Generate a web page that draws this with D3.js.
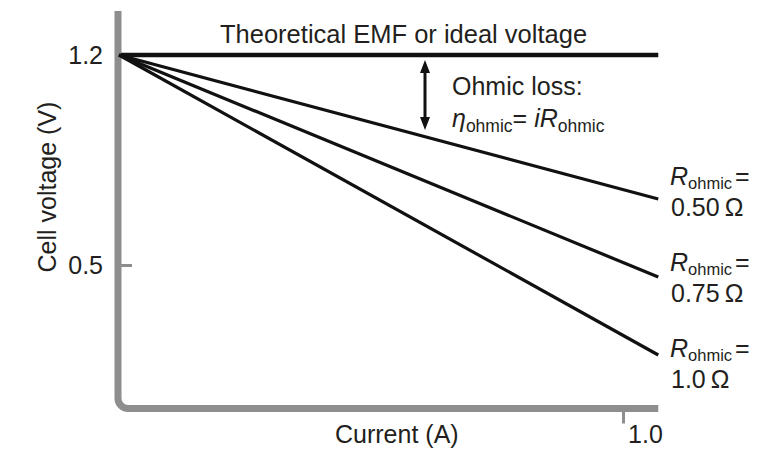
<!DOCTYPE html>
<html>
<head>
<meta charset="utf-8">
<script src="https://cdn.jsdelivr.net/npm/d3@7"></script>
<style>
  html, body { margin: 0; padding: 0; background: #fff; }
  svg text { font-family: "Liberation Sans", Arial, Helvetica, sans-serif; fill: #231f20; }
</style>
</head>
<body>
<div class="box"></div>
<script>
// values
const emf = 1.2;                          // ideal voltage (V)
const resistances = ["0.50", "0.75", "1.0"]; // R ohmic (ohm)
const endCurrent = 1.07;                  // where the lines stop (A)
const endVoltages = [0.72, 0.46, 0.20];   // cell voltage at endCurrent
const yTicks = [0.5, 1.2];
const xTicks = [1.0];

// Vars for the svg "box"
const w = 777;
const h = 454;
const axisColor = "#8e8e8e";
const fontSize = 25;

const svg = d3.select(".box")
              .append("svg")
              .attr("width", w)
              .attr("height", h);

// scales
const x = d3.scaleLinear().domain([0, 1]).range([119, 623]);
const y = d3.scaleLinear().domain([0.5, 1.2]).range([265, 55]);

const x0 = 118;
const yTop = 11;
const yBot = 408.5;
const xRight = x(endCurrent);

// FRAME (L shaped, rounded corner)
const r = 10;
const frame = d3.path();
frame.moveTo(x0, yTop);
frame.lineTo(x0, yBot - r);
frame.arcTo(x0, yBot, x0 + r, yBot, r);
frame.lineTo(xRight, yBot);

svg.append("path")
    .attr("d", frame.toString())
    .attr("fill", "none")
    .attr("stroke", axisColor)
    .attr("stroke-width", 7);

// Y AXIS ticks
const yAxis = d3.axisLeft(y).tickValues(yTicks).tickSize(-14).tickPadding(15).tickFormat(d3.format(".1f"));
const gy = svg.append("g")
    .attr("transform", "translate(" + x0 + ",0)")
    .call(yAxis);
gy.select(".domain").remove();
gy.selectAll(".tick line").attr("stroke", axisColor).attr("stroke-width", 3);
gy.selectAll(".tick text")
    .style("font-size", fontSize + "px")
    .attr("fill", "#231f20");

// X AXIS ticks
const xAxis = d3.axisBottom(x).tickValues(xTicks).tickSize(15).tickPadding(2).tickFormat(d3.format(".1f"));
const gx = svg.append("g")
    .attr("transform", "translate(0," + yBot + ")")
    .call(xAxis);
gx.select(".domain").remove();
gx.selectAll(".tick line").attr("stroke", axisColor).attr("stroke-width", 3);
gx.selectAll(".tick text")
    .style("font-size", fontSize + "px")
    .attr("fill", "#231f20")
    .attr("dx", 22);

// AXIS NAMES
svg.append("text")
    .attr("transform", "translate(56,187) rotate(-90)")
    .attr("text-anchor", "middle")
    .style("font-size", fontSize + "px")
    .text("Cell voltage (V)");

svg.append("text")
    .attr("x", 335)
    .attr("y", 443)
    .style("font-size", fontSize + "px")
    .text("Current (A)");

// IDEAL VOLTAGE LINE
svg.append("line")
    .attr("x1", x(0) + 2)
    .attr("x2", xRight)
    .attr("y1", y(emf))
    .attr("y2", y(emf))
    .attr("stroke", "#111")
    .attr("stroke-width", 4.5);

svg.append("text")
    .attr("x", 220)
    .attr("y", 43)
    .style("font-size", "25.5px")
    .text("Theoretical EMF or ideal voltage");

// OHMIC LINES
const line = d3.line().x(d => x(d[0])).y(d => y(d[1]));
svg.selectAll(".ohm")
    .data(endVoltages)
    .enter()
    .append("path")
    .attr("class", "ohm")
    .attr("d", d => line([[0, emf], [endCurrent, d]]))
    .attr("fill", "none")
    .attr("stroke", "#111")
    .attr("stroke-width", 3.2);

// labels at the line ends
const labelY = [185, 271, 357];
const labels = svg.selectAll(".rlab")
    .data(resistances)
    .enter()
    .append("g")
    .attr("class", "rlab")
    .attr("transform", (d, i) => "translate(670," + labelY[i] + ")");

const rText = labels.append("text").style("font-size", fontSize + "px");
rText.append("tspan").style("font-style", "italic").text("R");
rText.append("tspan").attr("dy", 4).style("font-size", "16.5px").text("ohmic");
rText.append("tspan").attr("dy", -4).attr("dx", 3).text("=");

labels.append("text")
    .attr("x", 1)
    .attr("y", 31)
    .style("font-size", fontSize + "px")
    .text(d => d + "\u2009\u03A9");

// OHMIC LOSS ARROW
const ax = 425;
const a1 = 60;
const a2 = 130;
svg.append("line")
    .attr("x1", ax).attr("x2", ax)
    .attr("y1", a1 + 8).attr("y2", a2 - 8)
    .attr("stroke", "#111")
    .attr("stroke-width", 3);
svg.append("path")
    .attr("d", "M" + ax + "," + a1 + " l-5,13 l10,0 Z M" + ax + "," + a2 + " l-5,-13 l10,0 Z")
    .attr("fill", "#111");

svg.append("text")
    .attr("x", 452)
    .attr("y", 95)
    .style("font-size", fontSize + "px")
    .text("Ohmic loss:");

const eq = svg.append("text")
    .attr("x", 452)
    .attr("y", 127)
    .style("font-size", fontSize + "px");
eq.append("tspan").style("font-style", "italic").text("\u03B7");
eq.append("tspan").attr("dy", 5).style("font-size", "17.5px").text("ohmic");
eq.append("tspan").attr("dy", -5).text("= ");
eq.append("tspan").style("font-style", "italic").text("iR");
eq.append("tspan").attr("dy", 5).style("font-size", "17.5px").text("ohmic");
</script>
</body>
</html>
